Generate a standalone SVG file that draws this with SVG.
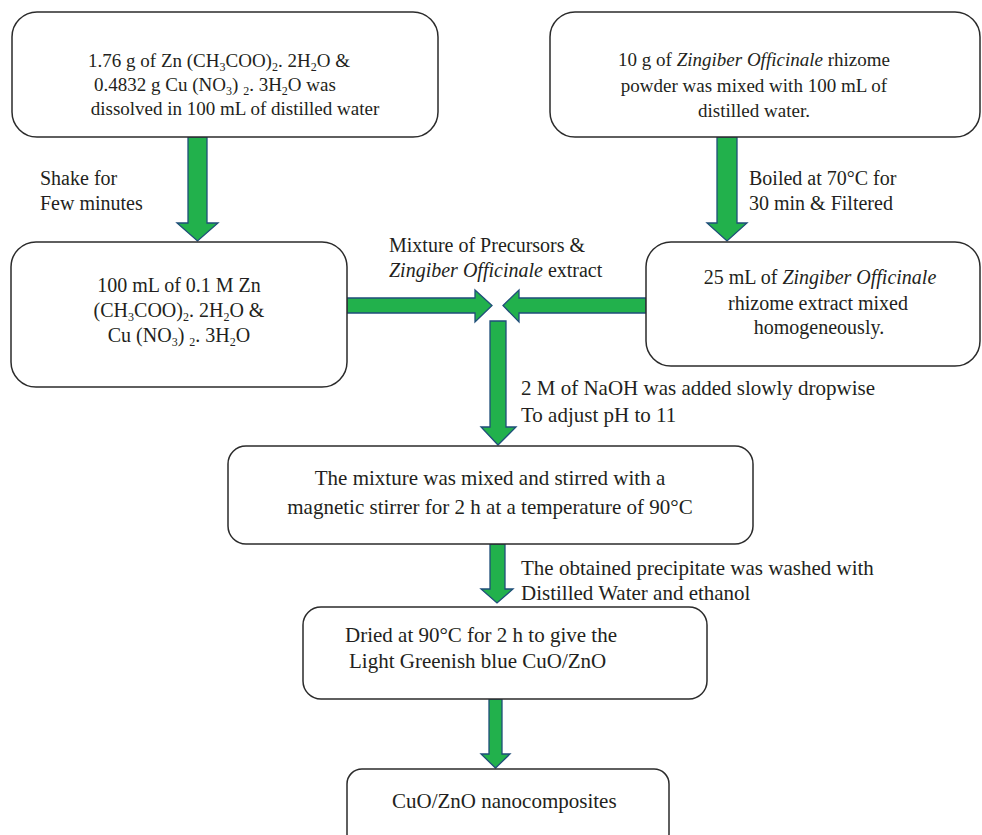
<svg xmlns="http://www.w3.org/2000/svg" width="982" height="835" viewBox="0 0 982 835">
<style>
.box{fill:#fff;stroke:#2b2b2b;stroke-width:1.5}
.arr{fill:#22b14c;stroke:#1f4e79;stroke-width:1.3;stroke-linejoin:miter}
text{font-family:"Liberation Serif","Times New Roman",serif;font-size:20px;fill:#231f20}
.c{text-anchor:middle}
.s{font-size:12px}
.lb{font-size:21px}
.f19{font-size:19px}
.f21{font-size:21px}
</style>
<rect width="982" height="835" fill="#fff"/>
<g id="connectors">
<polygon class="arr" points="188,137 207,137 207,223 218,223 197.5,241 177,223 188,223"/>
<polygon class="arr" points="717,137 737,137 737,223 747,223 727,241 707,223 717,223"/>
<polygon class="arr" points="347,298 475,298 475,290 492,305.5 475,322 475,313 347,313"/>
<polygon class="arr" points="646,298 519,298 519,290 503,305.5 519,322 519,313 646,313"/>
<polygon class="arr" points="490,321 506,321 506,427 516,427 498,445 481,427 490,427"/>
<polygon class="arr" points="490,544 505,544 505,589 513,589 497,603 481,589 490,589"/>
<polygon class="arr" points="489,699 502,699 502,754 510,754 495.5,768 481,754 489,754"/>
</g>
<g id="labels">
<text x="40" y="185" font-size="20.5">Shake for</text>
<text x="40" y="210" font-size="20.5">Few minutes</text>
<text x="749" y="185">Boiled at 70°C for</text>
<text x="749" y="210">30 min &amp; Filtered</text>
<text x="389" y="252" font-size="22">Mixture of Precursors &amp;</text>
<text x="389" y="277" font-size="21.5"><tspan font-style="italic">Zingiber Officinale</tspan> extract</text>
<text class="lb" x="521" y="395">2 M of NaOH was added slowly dropwise</text>
<text class="lb" x="521" y="422">To adjust pH to 11</text>
<text class="lb" x="521" y="575">The obtained precipitate was washed with</text>
<text class="lb" x="521" y="600">Distilled Water and ethanol</text>
</g>
<g id="n1">
<rect class="box" x="12" y="12" width="426" height="125" rx="25"/>
<text class="c f19" x="219" y="67">1.76 g of Zn (CH<tspan class="s" dy="3.5">3</tspan><tspan dy="-3.5">COO)</tspan><tspan class="s" dy="3.5">2</tspan><tspan dy="-3.5">. 2H</tspan><tspan class="s" dy="3.5">2</tspan><tspan dy="-3.5">O &amp;</tspan></text>
<text class="c f19" x="215" y="91">0.4832 g Cu (NO<tspan class="s" dy="3.5">3</tspan><tspan dy="-3.5">) </tspan><tspan class="s" dy="3.5">2</tspan><tspan dy="-3.5">. 3H</tspan><tspan class="s" dy="3.5">2</tspan><tspan dy="-3.5">O was</tspan></text>
<text class="c f19" x="235" y="115">dissolved in 100 mL of distilled water</text>
</g>
<g id="n2">
<rect class="box" x="550" y="12" width="430" height="125" rx="25"/>
<text class="c f19" x="754" y="66">10 g of <tspan font-style="italic">Zingiber Officinale</tspan> rhizome</text>
<text class="c f19" x="754" y="92">powder was mixed with 100 mL of</text>
<text class="c f19" x="754" y="117">distilled water.</text>
</g>
<g id="n3">
<rect class="box" x="11" y="242" width="336" height="145" rx="25"/>
<text class="c" x="179" y="292">100 mL of 0.1 M Zn</text>
<text class="c" x="179" y="317">(CH<tspan class="s" dy="3.5">3</tspan><tspan dy="-3.5">COO)</tspan><tspan class="s" dy="3.5">2</tspan><tspan dy="-3.5">. 2H</tspan><tspan class="s" dy="3.5">2</tspan><tspan dy="-3.5">O &amp;</tspan></text>
<text class="c" x="179" y="342">Cu (NO<tspan class="s" dy="3.5">3</tspan><tspan dy="-3.5">) </tspan><tspan class="s" dy="3.5">2</tspan><tspan dy="-3.5">. 3H</tspan><tspan class="s" dy="3.5">2</tspan><tspan dy="-3.5">O</tspan></text>
</g>
<g id="n4">
<rect class="box" x="646" y="242" width="334" height="124" rx="25"/>
<text class="c" x="820" y="284">25 mL of <tspan font-style="italic">Zingiber Officinale</tspan></text>
<text class="c" x="818" y="310">rhizome extract mixed</text>
<text class="c" x="819" y="334">homogeneously.</text>
</g>
<g id="n5">
<rect class="box" x="228" y="446" width="525" height="98" rx="18"/>
<text class="c f21" x="490" y="485">The mixture was mixed and stirred with a</text>
<text class="c f21" x="490" y="514">magnetic stirrer for 2 h at a temperature of 90°C</text>
</g>
<g id="n6">
<rect class="box" x="303" y="607" width="404" height="92" rx="18"/>
<text class="f21" x="345" y="642">Dried at 90°C for 2 h to give the</text>
<text class="f21" x="349" y="668">Light Greenish blue CuO/ZnO</text>
</g>
<g id="n7">
<rect class="box" x="347" y="769" width="322" height="80" rx="15"/>
<text class="f21" x="392" y="808">CuO/ZnO nanocomposites</text>
</g>
</svg>
